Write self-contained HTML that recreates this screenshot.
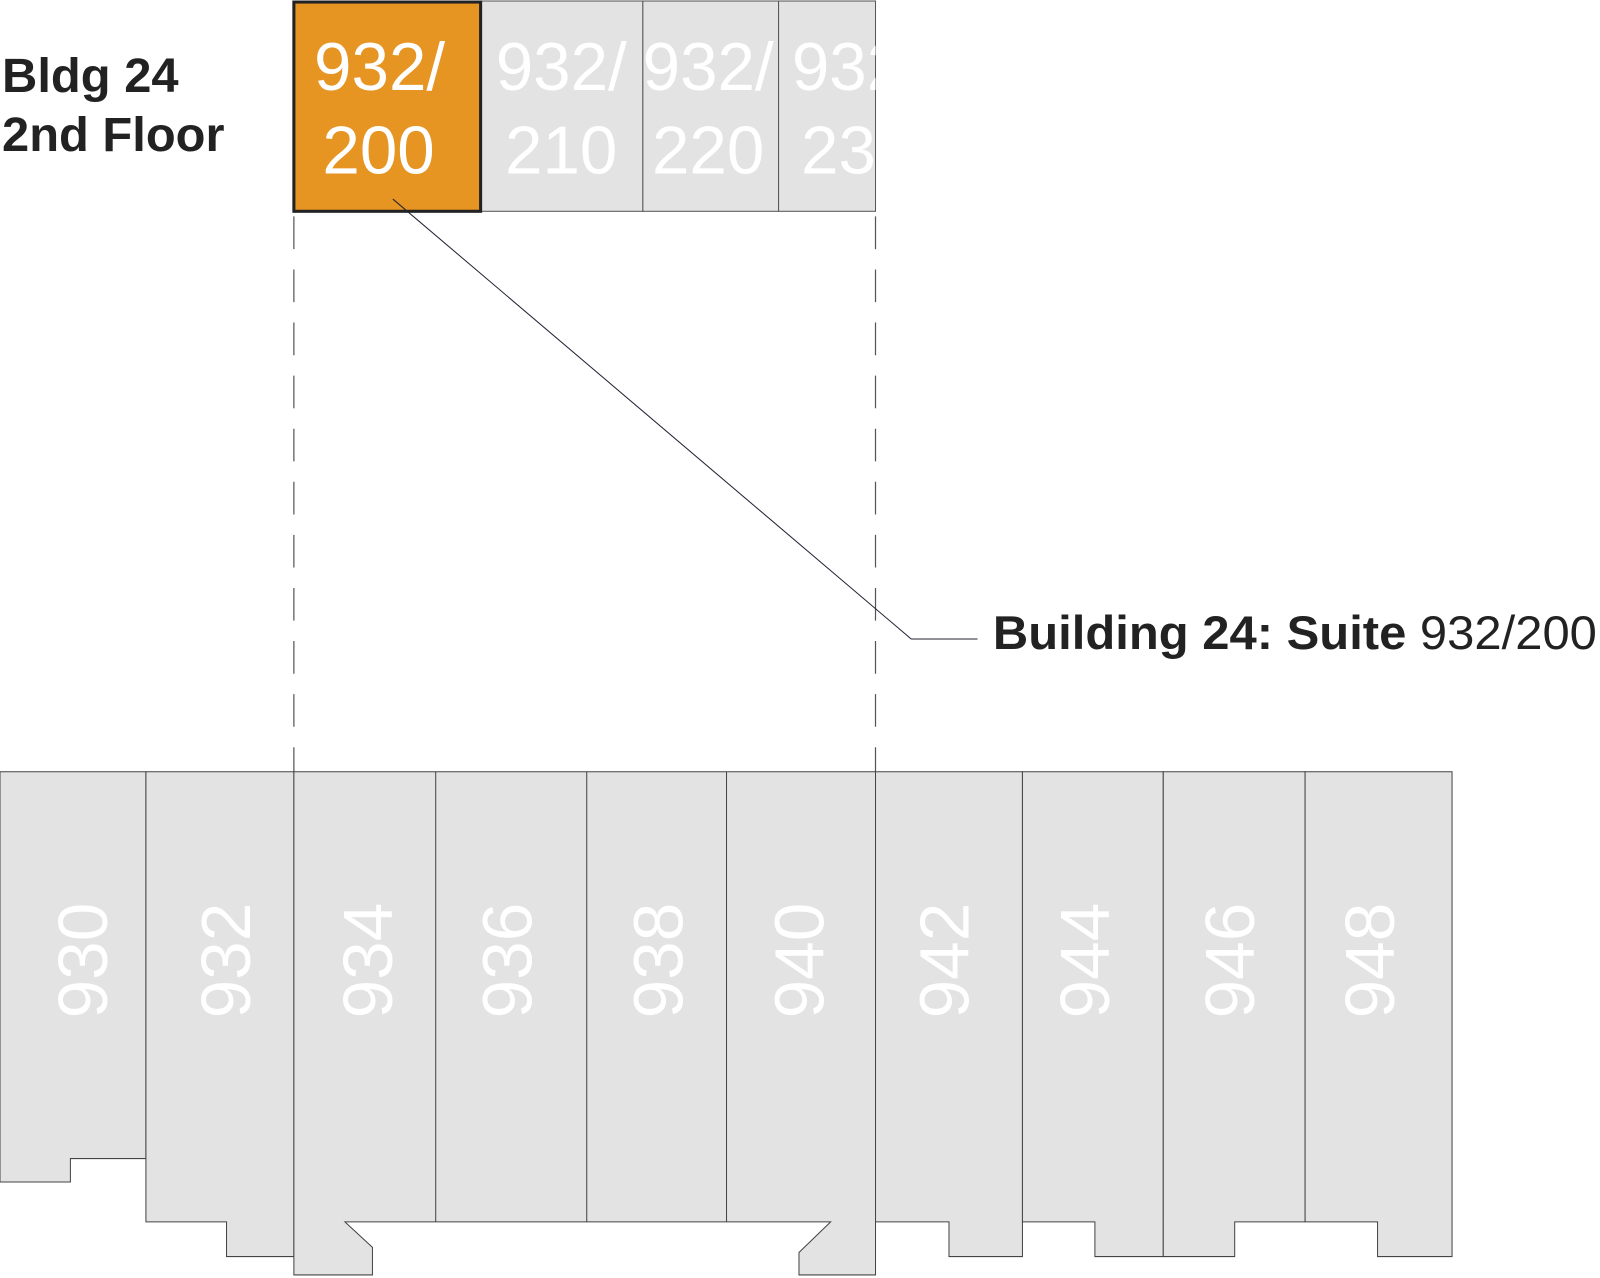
<!DOCTYPE html>
<html><head><meta charset="utf-8"><style>html,body{margin:0;padding:0;background:#fff}svg{display:block}</style></head><body>
<svg width="1600" height="1278" viewBox="0 0 1568 1252" preserveAspectRatio="none" xmlns="http://www.w3.org/2000/svg" font-family="Liberation Sans, sans-serif">
<rect width="1568" height="1252" fill="#fff"/>
<g stroke="#555" stroke-width="1" fill="#e3e3e3">
<rect x="471" y="1" width="159" height="206"/>
<rect x="630" y="1" width="133" height="206"/>
<rect x="763" y="1" width="95" height="206"/>
</g>
<g fill="#fff" font-size="66" text-anchor="middle">
<text x="550" y="88">932/</text><text x="550" y="170">210</text>
<text x="694" y="88">932/</text><text x="694" y="170">220</text>
</g>
<svg x="763" y="1" width="95" height="206" overflow="hidden"><g fill="#fff" font-size="66"><text x="13" y="87">932/</text><text x="22" y="169">230</text></g></svg>
<rect x="288" y="2" width="183" height="205" fill="#e69422" stroke="#222" stroke-width="3"/>
<g fill="#fff" font-size="66" text-anchor="middle"><text x="372" y="88">932/</text><text x="371" y="170">200</text></g>
<g font-weight="bold" font-size="47" fill="#222"><text x="2" y="90" textLength="173" lengthAdjust="spacingAndGlyphs">Bldg 24</text><text x="2" y="148" textLength="218" lengthAdjust="spacingAndGlyphs">2nd Floor</text></g>
<g stroke="#555" stroke-width="1.2" stroke-dasharray="32,20"><line x1="288" y1="212" x2="288" y2="756"/><line x1="858" y1="212" x2="858" y2="756"/></g>
<polyline points="385,195 893,626 958,626" fill="none" stroke="#223" stroke-width="1"/>
<text x="973" y="636" font-size="46" fill="#222" textLength="592" lengthAdjust="spacingAndGlyphs"><tspan font-weight="bold">Building 24: Suite</tspan> 932/200</text>
<g stroke="#444" stroke-width="1" fill="#e3e3e3">
<polygon points="0,756 143,756 143,1135 69,1135 69,1158 0,1158"/>
<polygon points="143,756 288,756 288,1231 222,1231 222,1197 143,1197"/>
<polygon points="288,756 858,756 858,1249 783,1249 783,1227 814,1197 338,1197 365,1222 365,1249 288,1249"/>
<polygon points="858,756 1002,756 1002,1231 930,1231 930,1197 858,1197"/>
<polygon points="1002,756 1140,756 1140,1231 1073,1231 1073,1197 1002,1197"/>
<polygon points="1140,756 1279,756 1279,1197 1210,1197 1210,1231 1140,1231"/>
<polygon points="1279,756 1423,756 1423,1231 1350,1231 1350,1197 1279,1197"/>
<line x1="427" y1="756" x2="427" y2="1197"/><line x1="575" y1="756" x2="575" y2="1197"/><line x1="712" y1="756" x2="712" y2="1197"/>
</g>
<g fill="#fff" font-size="68" text-anchor="middle">
<text transform="translate(105,941) rotate(-90)">930</text>
<text transform="translate(245,941) rotate(-90)">932</text>
<text transform="translate(384,941) rotate(-90)">934</text>
<text transform="translate(521,941) rotate(-90)">936</text>
<text transform="translate(669,941) rotate(-90)">938</text>
<text transform="translate(807,941) rotate(-90)">940</text>
<text transform="translate(949,941) rotate(-90)">942</text>
<text transform="translate(1087,941) rotate(-90)">944</text>
<text transform="translate(1229,941) rotate(-90)">946</text>
<text transform="translate(1366,941) rotate(-90)">948</text>
</g>
</svg>
</body></html>
